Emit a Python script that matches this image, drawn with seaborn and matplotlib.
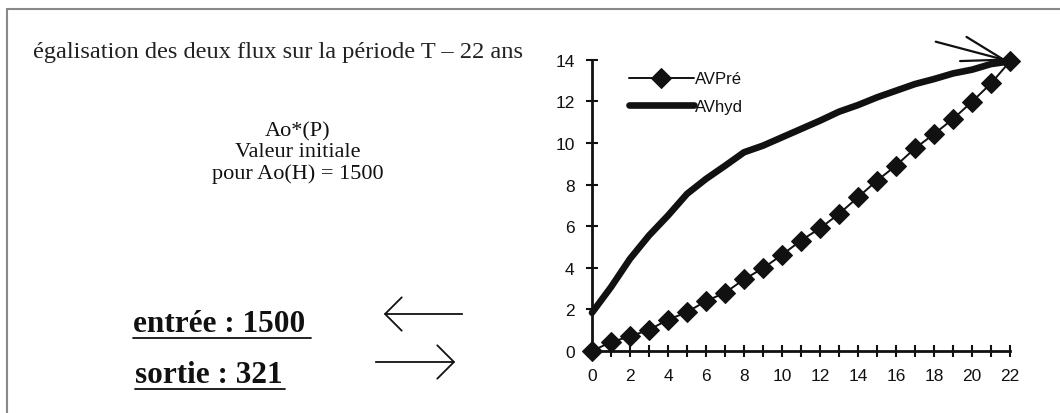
import matplotlib
matplotlib.use("Agg")
import matplotlib.pyplot as plt
from matplotlib.patches import FancyArrowPatch
from matplotlib.ticker import MultipleLocator
import pandas as pd
import seaborn as sns

sns.set_theme(style="white")
plt.rcParams["font.family"] = ["Liberation Sans", "DejaVu Sans"]

# data
annees = list(range(23))
av_pre = [0, 0.43, 0.7, 1.02, 1.5, 1.87, 2.4, 2.8, 3.44, 3.98, 4.62, 5.31,
          5.9, 6.59, 7.39, 8.19, 8.91, 9.74, 10.43, 11.15, 11.98, 12.86, 13.92]
av_hyd = [1.84, 3.07, 4.43, 5.55, 6.51, 7.55, 8.27, 8.9, 9.55, 9.87, 10.27, 10.67,
          11.07, 11.5, 11.82, 12.19, 12.51, 12.83, 13.07, 13.34, 13.52, 13.79, 13.92]
series_names = ["AVPré", "AVhyd"]

df = pd.DataFrame({"annee": annees * 2,
                   "valeur": av_pre + av_hyd,
                   "serie": [series_names[0]] * len(annees) + [series_names[1]] * len(annees)})

W, H = 1060, 414
fig = plt.figure(figsize=(W / 100, H / 100), dpi=100)
ax = fig.add_axes([592 / W, 1 - 352 / H, 418 / W, 291.3 / H])

sns.lineplot(data=df[df.serie == series_names[0]], x="annee", y="valeur", ax=ax,
             color="#111111", lw=1.4, marker="D", markersize=10.5,
             markeredgecolor="#111111", label=series_names[0], clip_on=False)
sns.lineplot(data=df[df.serie == series_names[1]], x="annee", y="valeur", ax=ax,
             color="#111111", lw=4.8, label=series_names[1], clip_on=False)

ax.set_xlim(0, 22)
ax.set_ylim(0, 14)
ax.xaxis.set_major_locator(MultipleLocator(2))
ax.xaxis.set_minor_locator(MultipleLocator(1))
ax.yaxis.set_major_locator(MultipleLocator(2))
ax.tick_params(which="both", direction="inout", length=9, width=1.5, color="#111111",
               labelsize=12.5, labelcolor="#111111", left=True, bottom=True, pad=8)
ax.set_xlabel("")
ax.set_ylabel("")
for side in ["top", "right"]:
    ax.spines[side].set_visible(False)
for side in ["left", "bottom"]:
    ax.spines[side].set_color("#111111")
    ax.spines[side].set_linewidth(2)

leg = ax.legend(loc="upper left", bbox_to_anchor=(0.06, 1.0), frameon=False,
                fontsize=12, handlelength=3.9, handletextpad=0.1, labelspacing=0.75,
                borderaxespad=0.3)
for t in leg.get_texts():
    t.set_color("#111111")

# arrow pointing at the final point
ax.annotate("", xy=(22, av_hyd[-1]), xytext=(17.95, 14.9),
            arrowprops=dict(arrowstyle="->,head_length=3.0,head_width=0.9",
                            color="#111111", lw=1.6, mutation_scale=10),
            annotation_clip=False)

serif = ["Liberation Serif", "DejaVu Serif"]
fig.text(33 / W, 1 - 58 / H, "égalisation des deux flux sur la période T – 22 ans",
         family=serif, fontsize=17.6, color="#222222", va="baseline", ha="left")
fig.text(298 / W, 1 - 153 / H, "Ao*(P)\nValeur initiale\npour Ao(H) = 1500",
         family=serif, fontsize=16, color="#111111", ha="center", va="center",
         linespacing=1.15)
fig.text(133 / W, 1 - 324 / H, "entrée : 1500", family=serif, fontsize=22.5,
         weight="bold", color="#111111", ha="left", va="center")
fig.text(135 / W, 1 - 376 / H, "sortie : 321", family=serif, fontsize=22.5,
         weight="bold", color="#111111", ha="left", va="center")
# underlines
fig.add_artist(plt.Line2D([133 / W, 311 / W], [1 - 339 / H] * 2, color="#111111", lw=1.3))
fig.add_artist(plt.Line2D([135 / W, 285 / W], [1 - 390 / H] * 2, color="#111111", lw=1.3))

# flux arrows
for (x0, x1, y) in [(465, 381, 315), (373, 458, 363)]:
    fig.add_artist(FancyArrowPatch((x0 / W, 1 - y / H), (x1 / W, 1 - y / H),
                                   transform=fig.transFigure,
                                   arrowstyle="->,head_length=1.2,head_width=1.2",
                                   color="#111111", lw=1.3, mutation_scale=10))

# frame
fig.add_artist(plt.Line2D([7 / W, 1], [1 - 10 / H] * 2, color="#888888", lw=1.5))
fig.add_artist(plt.Line2D([7 / W] * 2, [0, 1 - 10 / H], color="#888888", lw=1.5))

fig.savefig("out.png", dpi=100)
